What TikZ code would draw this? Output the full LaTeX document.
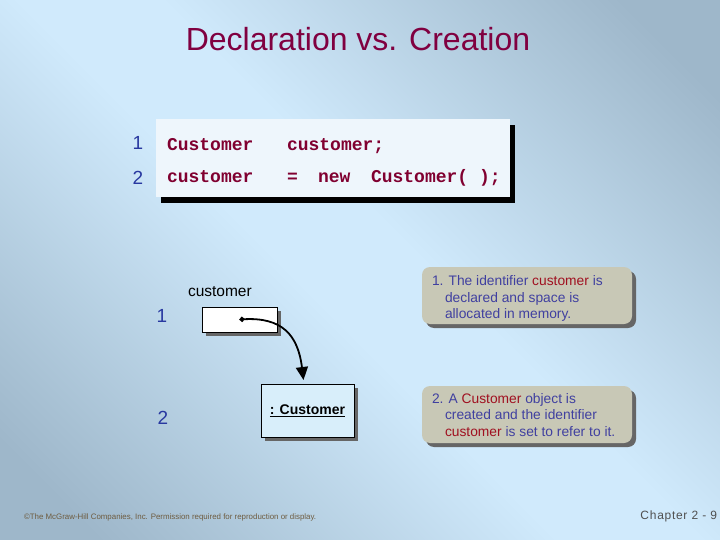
\documentclass[tikz,border=0pt]{standalone}
\usepackage{fontspec}
\setmainfont{Liberation Sans}
\setmonofont{Liberation Mono}
\usetikzlibrary{arrows.meta,shadows}
\definecolor{bgdark}{RGB}{158,183,202}
\definecolor{bglight}{RGB}{208,234,252}
\definecolor{titlered}{RGB}{128,0,64}
\definecolor{codered}{RGB}{128,0,48}
\definecolor{numblue}{RGB}{40,56,160}
\definecolor{notetext}{RGB}{64,64,160}
\definecolor{notered}{RGB}{160,16,32}
\definecolor{notefill}{RGB}{200,200,182}
\definecolor{codefill}{RGB}{238,246,252}
\definecolor{objfill}{RGB}{216,238,250}
\definecolor{footbrown}{RGB}{110,92,64}
\definecolor{footgray}{RGB}{80,80,80}
\pgfdeclareverticalshading{bgshade}{100bp}{color(0bp)=(bgdark); color(20bp)=(bgdark); color(46bp)=(bglight); color(54bp)=(bglight); color(80bp)=(bgdark); color(100bp)=(bgdark)}
\begin{document}
\begin{tikzpicture}[x=1pt,y=-1pt,
  every node/.style={inner sep=0pt, outer sep=0pt},
  num/.style={text=numblue, font=\fontsize{19}{22}\selectfont, anchor=base},
  codetxt/.style={text=codered, font=\fontsize{18}{20}\selectfont\ttfamily\bfseries, anchor=base west},
  codebox/.style={fill=codefill, anchor=north west, minimum width=354pt, minimum height=78pt,
    drop shadow={shadow xshift=5pt, shadow yshift=-6pt, fill=black, opacity=1}},
  varbox/.style={draw=black, line width=0.8pt, fill=white, anchor=north west,
    drop shadow={shadow xshift=4pt, shadow yshift=-4pt, fill=black!60, opacity=1}},
  objbox/.style={draw=black, line width=0.8pt, fill=objfill, anchor=north west,
    font=\fontsize{14}{16}\selectfont\bfseries,
    drop shadow={shadow xshift=4pt, shadow yshift=-4pt, fill=black!60, opacity=1}},
  notebox/.style={fill=notefill, rounded corners=8pt, anchor=north west,
    minimum width=210pt, minimum height=57pt,
    drop shadow={shadow xshift=4pt, shadow yshift=-4pt, fill=black!60, opacity=1}},
  notetxt/.style={text=notetext, font=\fontsize{13.8}{16}\selectfont, anchor=base west},
  label/.style={font=\fontsize{15.5}{18}\selectfont, anchor=base west}
]
\useasboundingbox (0,0) rectangle (720,540);
\shade[shading=bgshade, shading angle=-45] (0,0) rectangle (720,540);

% title
\node[anchor=base, text=titlered, font=\fontsize{32}{38}\selectfont] (title) at (358,51) {Declaration vs. Creation};

% code box
\node[codebox] (code) at (156,119) {};
\node[num] (n1) at (138,150) {1};
\node[num] (n2) at (138,185) {2};
\node[codetxt] (c1a) at (167,151) {Customer};
\node[codetxt] (c1b) at (287,151) {customer;};
\node[codetxt] (c2a) at (167,183) {customer};
\node[codetxt] (c2b) at (287,183) {=};
\node[codetxt] (c2c) at (318,183) {new};
\node[codetxt] (c2d) at (371,183) {Customer(~);};

% diagram
\node[label] (varlabel) at (188,296) {customer};
\node[num] (d1) at (162,322) {1};
\node[num] (d2) at (163,424) {2};
\node[varbox, minimum width=75pt, minimum height=25pt] (var) at (202,307) {};
\node[objbox, minimum width=93pt, minimum height=53pt] (obj) at (261,384) {\underline{: Customer}};
\draw[line width=1.8pt, {Circle[length=5pt]}-{Triangle[width=12pt,length=13pt]}]
  (var.center) .. controls (282,317) and (298,335) .. ([xshift=-4pt,yshift=4pt]obj.north);

% notes
\node[notebox] (note1) at (422,267) {};
\node[notetxt] (t11) at (432,285) {1. The identifier \textcolor{notered}{customer} is};
\node[notetxt] (t12) at (445,302) {declared and space is};
\node[notetxt] (t13) at (445,318) {allocated in memory.};
\node[notebox] (note2) at (422,386) {};
\node[notetxt] (t21) at (432,403) {2. A \textcolor{notered}{Customer} object is};
\node[notetxt] (t22) at (445,419) {created and the identifier};
\node[notetxt] (t23) at (445,436) {\textcolor{notered}{customer} is set to refer to it.};

% footer
\node[anchor=base west, text=footbrown, font=\fontsize{7.9}{9}\selectfont] (copy) at (24,519)
  {\textcopyright The McGraw-Hill Companies, Inc. Permission required for reproduction or display.};
\node[anchor=base east, text=footgray, font=\fontsize{12}{14}\selectfont\addfontfeature{LetterSpace=6}] (chap) at (717,519) {Chapter 2 - 9};
\end{tikzpicture}
\end{document}
